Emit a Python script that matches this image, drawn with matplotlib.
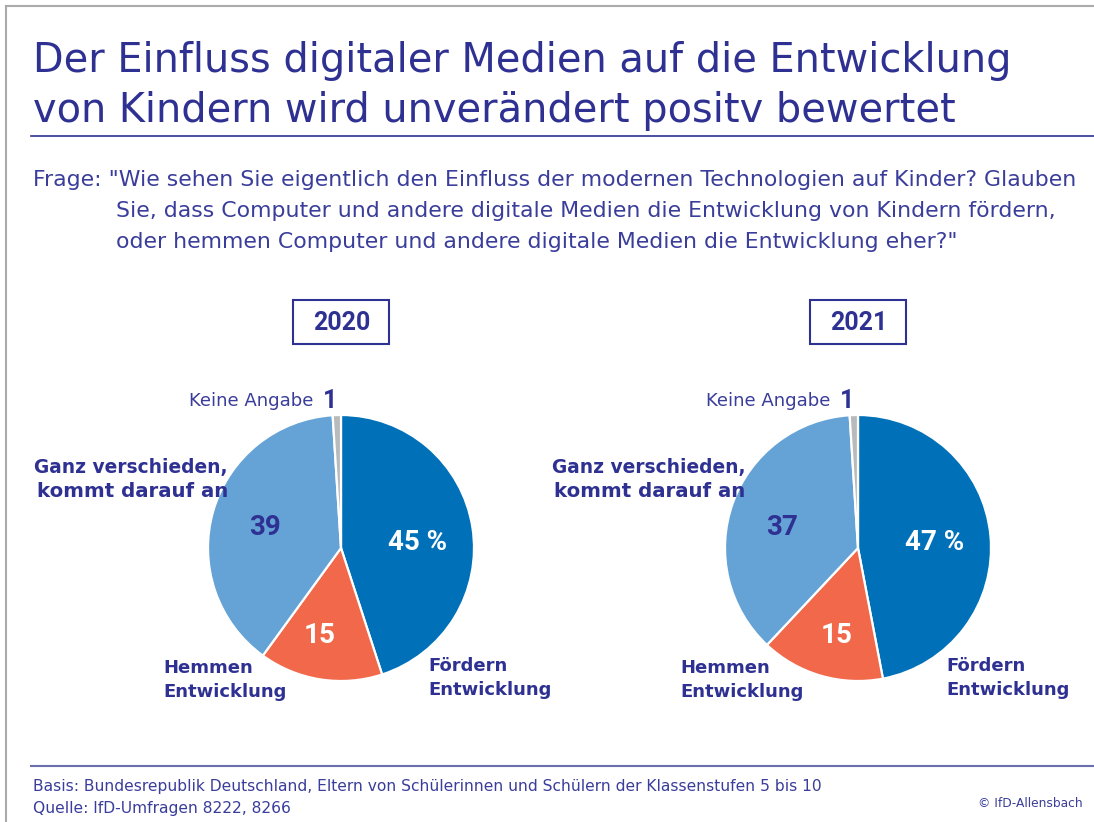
import matplotlib
matplotlib.use("Agg")
import matplotlib.pyplot as plt
from matplotlib.patches import Rectangle

# ---------------- data ----------------
years = ["2020", "2021"]
categories = ["Fördern Entwicklung", "Hemmen Entwicklung",
              "Ganz verschieden, kommt darauf an", "Keine Angabe"]
values_2020 = [45, 15, 39, 1]
values_2021 = [47, 15, 37, 1]
slice_colors = ["#0071b9", "#f1684a", "#65a3d6", "#b9babc"]

title_lines = ["Der Einfluss digitaler Medien auf die Entwicklung",
               "von Kindern wird unverändert positv bewertet"]
question_lines = ['Frage: "Wie sehen Sie eigentlich den Einfluss der modernen Technologien auf Kinder? Glauben',
                  'Sie, dass Computer und andere digitale Medien die Entwicklung von Kindern fördern,',
                  'oder hemmen Computer und andere digitale Medien die Entwicklung eher?"']
footer_lines = ["Basis: Bundesrepublik Deutschland, Eltern von Schülerinnen und Schülern der Klassenstufen 5 bis 10",
                "Quelle: IfD-Umfragen 8222, 8266"]
copyright_text = "© IfD-Allensbach"

# ---------------- layout ----------------
W, H = 1094, 822
DPI = 100
NAVY = "#2e3192"
TXT = "#3a3d9a"

fig = plt.figure(figsize=(W / DPI, H / DPI), dpi=DPI)
fig.patch.set_facecolor("white")
renderer = fig.canvas.get_renderer()

# pie axes
centers = [(341, 548), (858, 548)]
R = 133
for (cx, cy), vals in zip(centers, [values_2020, values_2021]):
    ax = fig.add_axes([(cx - R) / W, 1 - (cy + R) / H, 2 * R / W, 2 * R / H])
    ax.pie(vals, colors=slice_colors, startangle=90, counterclock=False,
           radius=1.0, wedgeprops=dict(edgecolor="white", linewidth=1.6))
    ax.set_xlim(-1, 1)
    ax.set_ylim(-1, 1)
    ax.set_aspect("auto")
    ax.axis("off")

# overlay axes in pixel coordinates
ov = fig.add_axes([0, 0, 1, 1], zorder=5)
ov.set_xlim(0, W)
ov.set_ylim(H, 0)
ov.axis("off")
ov.patch.set_alpha(0)

FONT = "DejaVu Sans"
NFONT = "Roboto"


def fit(x, y, s, width, ha="left", family=FONT, **kw):
    t = ov.text(x, y, s, fontsize=10, ha=ha, va="baseline", family=family, **kw)
    bb = t.get_window_extent(renderer)
    fs = 10 * width / bb.width
    t.set_fontsize(fs)
    return fs


def txt(x, y, s, fs, ha="left", family=FONT, **kw):
    return ov.text(x, y, s, fontsize=fs, ha=ha, va="baseline", family=family, **kw)


# frame lines
ov.plot([6, 6], [6, H], color="#aaaaaa", lw=1.5, clip_on=False)
ov.plot([6, W], [6, 6], color="#aaaaaa", lw=1.5, clip_on=False)
ov.plot([31, W], [136, 136], color=NAVY, lw=1.2)
ov.plot([31, W], [766, 766], color="#6b6fb0", lw=1.5)

# title
fs_t = fit(33, 72, title_lines[0], 979, color=NAVY)
txt(33, 122, title_lines[1], fs_t, color=NAVY)

# question
fs_q = fit(33, 186, question_lines[0], 1037, color=TXT)
txt(116, 217, question_lines[1], fs_q, color=TXT)
txt(116, 248, question_lines[2], fs_q, color=TXT)

# year boxes
for yr, (cx, cy) in zip(years, centers):
    ov.add_patch(Rectangle((cx - 48, 300), 96, 44, fill=False, edgecolor=NAVY, lw=1.5))
    txt(cx + 1, 330, yr, 18, ha="center", family=NFONT, color=NAVY, fontweight="bold")

# labels
BOLD = dict(color=NAVY, fontweight="bold")
for vals, (cx, cy) in zip([values_2020, values_2021], centers):
    dx = cx - centers[0][0]
    # Keine Angabe
    fit(313 + dx, 406, "Keine Angabe", 125, ha="right", color=TXT)
    txt(330 + dx, 408, f"{vals[3]}", 18, ha="center", family=NFONT, **BOLD)
    # outside bold labels
    fs_b = fit(428 + dx + (1 if dx else 0), 695, "Entwicklung", 123, **BOLD)
    txt(428 + dx + (1 if dx else 0), 671, "Fördern", fs_b, **BOLD)
    txt(163 + dx, 673, "Hemmen", fs_b, **BOLD)
    txt(163 + dx, 697, "Entwicklung", fs_b, **BOLD)
    fit(228 + dx, 473, "Ganz verschieden,", 193, ha="right", **BOLD)
    fit(228 + dx, 497, "kommt darauf an", 191, ha="right", **BOLD)
    # inside numbers
    txt(418 + dx, 550, f"{vals[0]} %", 20, ha="center", family=NFONT,
        color="white", fontweight="bold")
    txt(320 + dx, 643, f"{vals[1]}", 20, ha="center", family=NFONT,
        color="white", fontweight="bold")
    txt(265 + dx, 535, f"{vals[2]}", 20, ha="center", family=NFONT, **BOLD)

# footer
fs_f = fit(33, 791, footer_lines[0], 784, color=TXT)
txt(33, 813, footer_lines[1], fs_f, color=TXT)
fit(1083, 807, copyright_text, 104, ha="right", color=TXT)

fig.savefig("out.png", dpi=DPI)
